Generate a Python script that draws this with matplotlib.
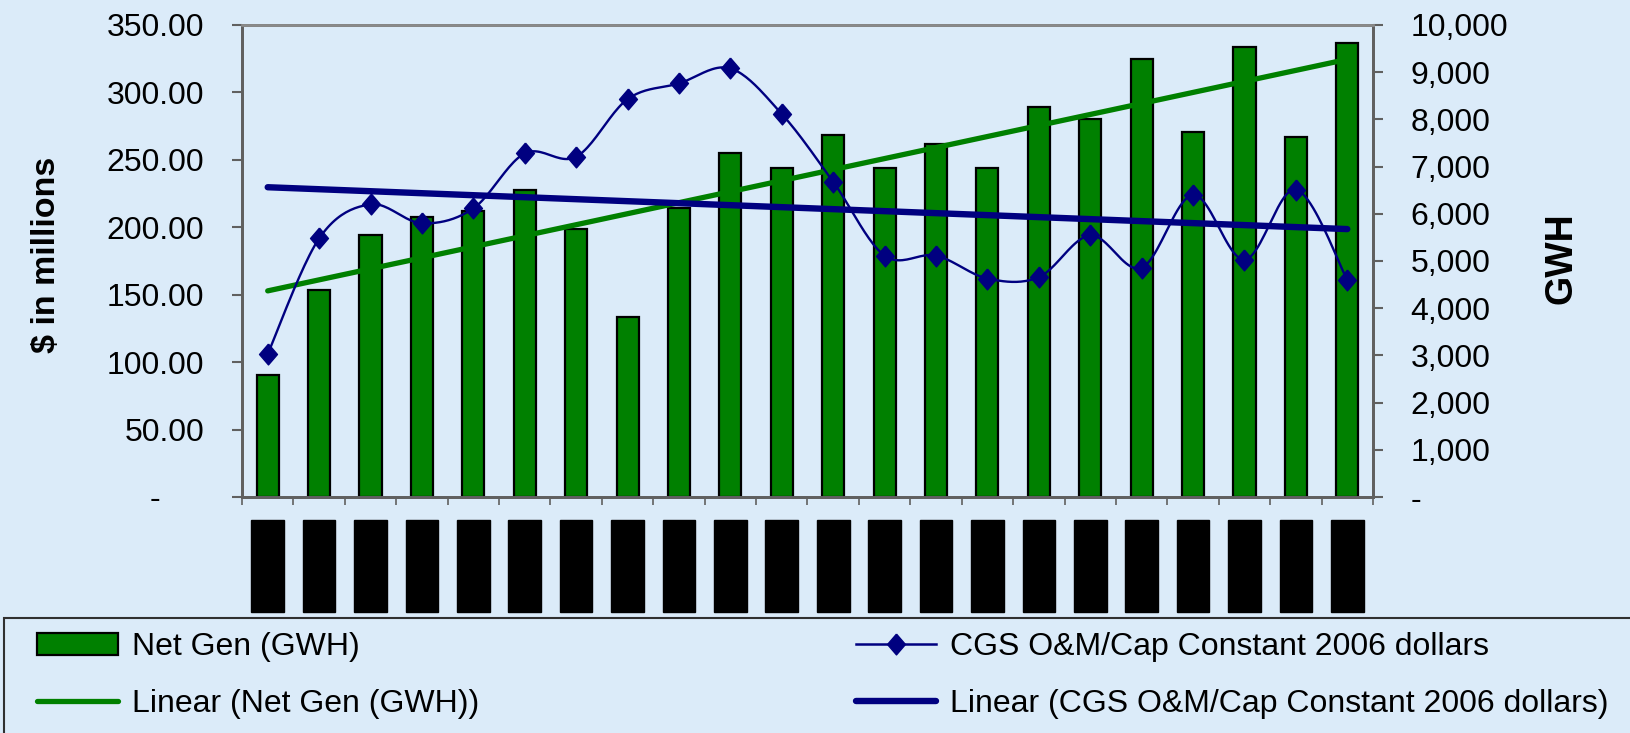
import numpy as np
import matplotlib
matplotlib.use("Agg")
import matplotlib.pyplot as plt
from matplotlib.ticker import FuncFormatter, FixedLocator
from matplotlib.patches import Patch, Rectangle
from matplotlib.lines import Line2D

plt.rcParams["font.family"] = ["Liberation Sans", "DejaVu Sans"]

# data
years = ["1985-86", "1986-87", "1987-88", "1988-89", "1989-90", "1990-91",
         "1991-92", "1992-93", "1993-94", "1994-95", "1995-96", "1996-97",
         "1997-98", "1998-99", "1999-00", "2000-01", "2001-02", "2002-03",
         "2003-04", "2004-05", "2005-06", "2006-07"]
net_gen_gwh = [2590, 4390, 5550, 5940, 6060, 6510, 5680, 3810, 6130, 7280, 6965,
               7670, 6965, 7480, 6965, 8260, 8000, 9280, 7740, 9540, 7620, 9610]
om_cap_2006 = [106, 191.7, 217, 203, 214, 254.8, 252.3, 295, 306.7, 317.8, 284,
               233.7, 179, 179, 162, 163, 194, 170, 224, 176, 228, 161]

BG = "#DBEBF9"
GREEN = "#008000"
NAVY = "#000080"
AXCOL = "#606060"
DIAMOND = [(0, 1), (0.86, 0), (0, -1), (-0.86, 0), (0, 1)]


def smooth(x, y, per_seg=24):
    # Catmull-Rom style bezier smoothing, like the spreadsheet "smoothed line"
    pts = np.column_stack([np.asarray(x, float), np.asarray(y, float)])
    out = [pts[0]]
    t = np.linspace(0, 1, per_seg)[1:, None]
    for i in range(len(pts) - 1):
        p0 = pts[max(i - 1, 0)]
        p1 = pts[i]
        p2 = pts[i + 1]
        p3 = pts[min(i + 2, len(pts) - 1)]
        c1 = p1 + (p2 - p0) / 6.0
        c2 = p2 - (p3 - p1) / 6.0
        seg = ((1 - t) ** 3) * p1 + 3 * ((1 - t) ** 2) * t * c1 + 3 * (1 - t) * t ** 2 * c2 + t ** 3 * p2
        out.extend(seg)
    out = np.array(out)
    return out[:, 0], out[:, 1]


fig = plt.figure(figsize=(16.31, 7.33), dpi=100, facecolor=BG)
ax = fig.add_axes([242 / 1631, 1 - 497 / 733, (1373 - 242) / 1631, (497 - 25) / 733])
ax2 = ax.twinx()
ax.set_zorder(ax2.get_zorder() + 1)
ax.patch.set_visible(False)
ax2.patch.set_facecolor(BG)

x = np.arange(len(years))

# bars + trend on the GWH axis
ax2.bar(x, net_gen_gwh, width=0.43, color=GREEN, edgecolor="black", linewidth=1.6, zorder=2)
g_fit = np.polyfit(x, net_gen_gwh, 1)
ax2.plot(x, np.polyval(g_fit, x), color=GREEN, lw=3.8, solid_capstyle="round", zorder=3)
ax2.set_ylim(0, 10000)
ax2.yaxis.set_major_locator(FixedLocator(np.arange(0, 10001, 1000)))
ax2.yaxis.set_major_formatter(FuncFormatter(lambda v, p: "-" if v == 0 else f"{v:,.0f}"))

# O&M line + trend on the $ axis
sx, sy = smooth(x, om_cap_2006)
ax.plot(sx, sy, color=NAVY, lw=1.7, zorder=3)
ax.plot(x, om_cap_2006, ls="none", marker=DIAMOND, ms=15, color=NAVY, zorder=4)
b_fit = np.polyfit(x, om_cap_2006, 1)
ax.plot(x, np.polyval(b_fit, x), color=NAVY, lw=4.6, solid_capstyle="round", zorder=2)
ax.set_ylim(0, 350)
ax.yaxis.set_major_locator(FixedLocator(np.arange(0, 351, 50)))
ax.yaxis.set_major_formatter(FuncFormatter(lambda v, p: "-     " if v == 0 else f"{v:.2f}"))

ax.set_xlim(-0.5, len(years) - 0.5)
ax.set_xticks(x)
ax.set_xticklabels(years, rotation=90, fontsize=15.3, color="black",
                   va="top", ha="center")
for lbl in ax.get_xticklabels():
    lbl.set_bbox(dict(boxstyle="square,pad=0.32", fc="black", ec="black"))
ax.set_xticks(np.arange(-0.5, len(years), 1.0), minor=True)
ax.tick_params(axis="x", which="major", length=0, pad=21.5)
ax.tick_params(axis="x", which="minor", length=6, width=1.2, color=AXCOL)

ax.tick_params(axis="y", labelsize=23, length=7, width=1.5, color=AXCOL, pad=20)
ax2.tick_params(axis="y", labelsize=23, length=7, width=1.5, color=AXCOL, pad=20)

for a in (ax, ax2):
    for s in a.spines.values():
        s.set_color(AXCOL)
        s.set_linewidth(2)
ax.spines["top"].set_color("#8a8a8a")

fig.text(47 / 1631, 1 - 255 / 733, "$ in millions", rotation=90, fontsize=24.5,
         fontweight="bold", ha="center", va="center")
fig.text(1562 / 1631, 1 - 258 / 733, "GWH", rotation=90, fontsize=27,
         fontweight="bold", ha="center", va="center")

# legend box runs off the bottom/right edge of the figure
fig.patches.append(Rectangle((4 / 1631, -0.05), 1.0, 0.05 + 1 - 618 / 733,
                             transform=fig.transFigure, facecolor=BG,
                             edgecolor="#303030", linewidth=1.5, zorder=0))

handles = [
    Patch(facecolor=GREEN, edgecolor="black", linewidth=1.6),
    Line2D([], [], color=GREEN, lw=3.8, solid_capstyle="round"),
    Line2D([], [], color=NAVY, lw=1.8, marker=DIAMOND, ms=15),
    Line2D([], [], color=NAVY, lw=4.6, solid_capstyle="round"),
]
labels = ["Net Gen (GWH)", "Linear (Net Gen (GWH))",
          "CGS O&M/Cap Constant 2006 dollars",
          "Linear (CGS O&M/Cap Constant 2006 dollars)"]
leg = fig.legend(handles, labels, loc="upper left", ncol=2, mode="expand",
                 bbox_to_anchor=(37 / 1631, 0, (1609 - 37) / 1631, 1 - 632 / 733),
                 fontsize=23, frameon=False, handlelength=2.53,
                 handletextpad=0.44, labelspacing=0.86, borderpad=0.0,
                 borderaxespad=0.0, numpoints=1)

fig.savefig("out.png", dpi=100, facecolor=BG)
